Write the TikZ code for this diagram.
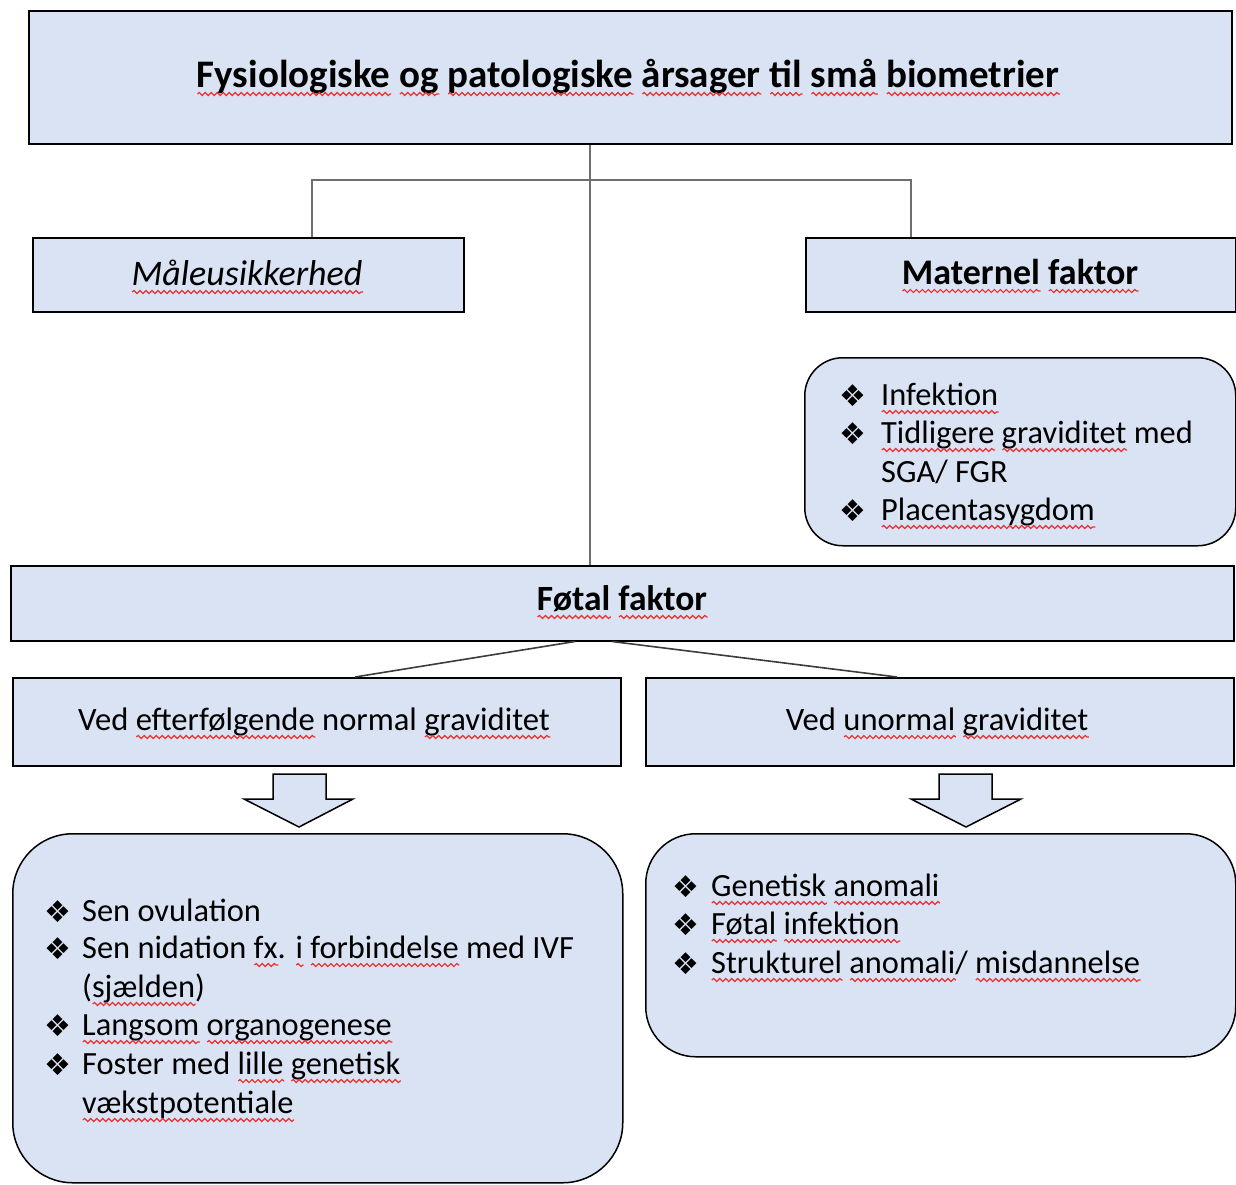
\documentclass[tikz,border=0pt]{standalone}
\usepackage{fontspec}
\setmainfont{Carlito}
\newfontfamily\dejavu{DejaVu Sans}
\usetikzlibrary{decorations.pathmorphing}
\definecolor{boxfill}{RGB}{218,227,243}
\definecolor{sqred}{RGB}{235,50,50}
\definecolor{connA}{RGB}{110,110,110}
\definecolor{connB}{RGB}{60,60,60}
\newsavebox\sqbox
\newlength\sqw
\newcommand\sq[1]{\sbox\sqbox{#1}\setlength\sqw{\wd\sqbox}%
  \rlap{\usebox\sqbox}%
  \rlap{\tikz[baseline=0pt,x=1pt,y=1pt]\draw[sqred, line width=1.2pt, decorate,
     decoration={snake, amplitude=1.5pt, segment length=6pt}] (0pt,-7pt) -- (\sqw,-7pt);}%
  \kern\sqw}
\begin{document}
\begin{tikzpicture}[x=1pt,y=-1pt,
  box/.style={draw=black, line width=1.5pt, fill=boxfill, inner sep=0pt, anchor=north west},
  rbox/.style={box, rounded corners=#1},
  conn/.style={draw=connA, line width=1.6pt},
  conntwo/.style={draw=connB, line width=1.6pt},
  arrowbox/.style={draw=black, line width=1.5pt, fill=boxfill, line join=miter},
  head/.style={anchor=base, inner sep=0pt},
  txt/.style={anchor=base west, inner sep=0pt, font=\fontsize{32.4}{39}\selectfont},
  blt/.style={anchor=base west, inner sep=0pt, font=\dejavu\fontsize{30}{36}\selectfont},
]
\useasboundingbox (0,0) rectangle (1236,1184);

% junction coordinates
\coordinate (jt) at (590,180);
\coordinate (jl) at (312,180);
\coordinate (jr) at (911,180);
\coordinate (fl) at (575,0);
\coordinate (fr) at (612,0);
\coordinate (vl) at (355,0);
\coordinate (vr) at (897,0);

% boxes
\node[box, minimum width=1203pt, minimum height=133pt] (top) at (28,10) {};
\node[box, minimum width=431pt, minimum height=74pt] (maal) at (32,237) {};
\node[box, minimum width=430pt, minimum height=74pt] (mat) at (805,237) {};
\node[rbox=38pt, minimum width=431pt, minimum height=188pt] (matlist) at (804,357) {};
\node[box, minimum width=1223pt, minimum height=75pt] (fetal) at (10,565) {};
\node[box, minimum width=608pt, minimum height=88pt] (vedl) at (12,677) {};
\node[box, minimum width=588pt, minimum height=88pt] (vedr) at (645,677) {};
\node[rbox=60pt, minimum width=610pt, minimum height=349pt] (botl) at (12,833) {};
\node[rbox=50pt, minimum width=590pt, minimum height=223pt] (botr) at (645,833) {};

% connectors
\draw[conn] (top.south -| jt) -- (fetal.north -| jt);
\draw[conn] (maal.north -| jl) -- (jl) -- (jr) -- (mat.north -| jr);
\draw[conntwo] (fetal.south -| fl) -- (vedl.north -| vl);
\draw[conntwo] (fetal.south -| fr) -- (vedr.north -| vr);

% block arrows
\draw[arrowbox] (273,774) -- (326,774) -- (326,799) -- (353,799) -- (299,827) -- (244,799) -- (273,799) -- cycle;
\draw[arrowbox] (939,774) -- (992,774) -- (992,799) -- (1021,799) -- (966,827) -- (911,799) -- (939,799) -- cycle;

% headings
\node[head, font=\bfseries\fontsize{39}{46}\selectfont] (ttitle) at (628,87)
  {\sq{Fysiologiske} \sq{og} \sq{patologiske} \sq{årsager} \sq{til} \sq{små} \sq{biometrier}};
\node[head, font=\itshape\fontsize{36}{43}\selectfont] (tmaal) at (247,285) {\sq{Måleusikkerhed}};
\node[head, font=\bfseries\fontsize{36}{43}\selectfont] (tmat) at (1020,284) {\sq{Maternel} \sq{faktor}};
\node[head, font=\bfseries\fontsize{35.5}{42}\selectfont] (tfetal) at (622,610) {\sq{Føtal} \sq{faktor}};
\node[head, font=\fontsize{32.6}{39}\selectfont] (tvedl) at (314,730) {Ved \sq{efterfølgende} normal \sq{graviditet}};
\node[head, font=\fontsize{32.6}{39}\selectfont] (tvedr) at (937,730) {Ved \sq{unormal} \sq{graviditet}};

% maternal list
\node[blt] (mb1) at (839,406) {❖};
\node[txt] (m1) at (881,405) {\sq{Infektion}};
\node[blt] (mb2) at (839,444) {❖};
\node[txt] (m2) at (881,443) {\sq{Tidligere} \sq{graviditet} med};
\node[txt] (m3) at (881,482) {SGA/ FGR};
\node[blt] (mb4) at (839,521) {❖};
\node[txt] (m4) at (881,520) {\sq{Placentasygdom}};

% left list
\node[blt] (lb1) at (44,922) {❖};
\node[txt] (l1) at (82,921) {Sen ovulation};
\node[blt] (lb2) at (44,959) {❖};
\node[txt] (l2) at (82,958) {Sen nidation \sq{fx}. \sq{i} \sq{forbindelse} med IVF};
\node[txt] (l3) at (82,997) {(\sq{sjælden})};
\node[blt] (lb4) at (44,1036) {❖};
\node[txt] (l4) at (82,1035) {\sq{Langsom} \sq{organogenese}};
\node[blt] (lb5) at (44,1075) {❖};
\node[txt] (l5) at (82,1074) {Foster med \sq{lille} \sq{genetisk}};
\node[txt] (l6) at (82,1113) {\sq{vækstpotentiale}};

% right list
\node[blt] (rb1) at (672,897) {❖};
\node[txt] (r1) at (711,896) {\sq{Genetisk} \sq{anomali}};
\node[blt] (rb2) at (672,935) {❖};
\node[txt] (r2) at (711,934) {\sq{Føtal} \sq{infektion}};
\node[blt] (rb3) at (672,974) {❖};
\node[txt] (r3) at (711,973) {\sq{Strukturel} \sq{anomali}/ \sq{misdannelse}};
\end{tikzpicture}
\end{document}
